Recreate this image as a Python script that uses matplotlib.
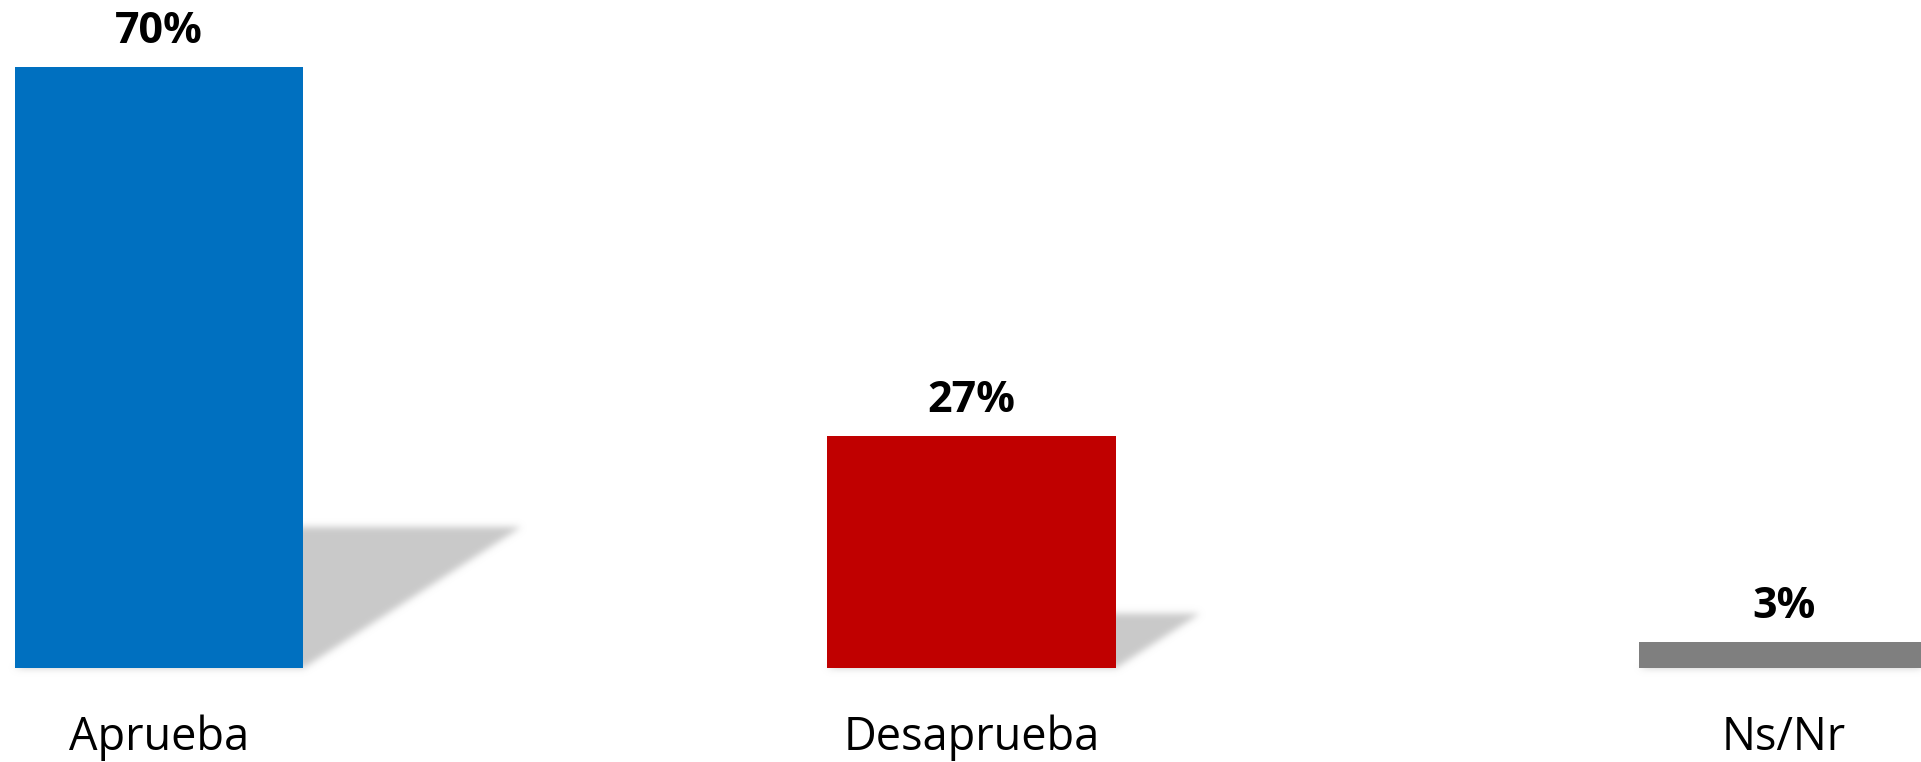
import numpy as np
import matplotlib
matplotlib.use('Agg')
import matplotlib.pyplot as plt
from matplotlib.patches import Polygon

# ---- data ----
categories = ['Aprueba', 'Desaprueba', 'Ns/Nr']
values = [70, 27, 3]
value_labels = ['70%', '27%', '3%']
colors = ['#0070C0', '#C00000', '#7F7F7F']

plt.rcParams['font.family'] = ['Open Sans', 'DejaVu Sans']

W, H, DPI = 1921, 762, 100
fig = plt.figure(figsize=(W / DPI, H / DPI), dpi=DPI)
fig.patch.set_facecolor('white')

base_px = 94        # baseline distance from bottom (px)
px_per_unit = 812.5  # px between category centres
px_per_pct = 8.58
first_center_px = 159

ax = fig.add_axes([0, base_px / H, 1, 1 - base_px / H])
ax.set_xlim(-first_center_px / px_per_unit, (W - first_center_px) / px_per_unit)
ax.set_ylim(0, (H - base_px) / px_per_pct)
ax.axis('off')

bar_w = 289 / px_per_unit
x = np.arange(len(categories))


def make_blur(sigma_px, color=(0.79, 0.79, 0.79)):
    def _f(im, dpi):
        pad = int(np.ceil(sigma_px * 3))
        src = np.pad(im, [(pad, pad), (pad, pad), (0, 0)], 'constant')
        a = src[:, :, 3]
        r = np.arange(-pad, pad + 1)
        k = np.exp(-0.5 * (r / sigma_px) ** 2)
        k /= k.sum()
        p2 = np.pad(a, [(pad, pad), (0, 0)])
        tmp = sum(k[j] * p2[j:j + a.shape[0], :] for j in range(len(k)))
        p3 = np.pad(tmp, [(0, 0), (pad, pad)])
        out_a = sum(k[j] * p3[:, j:j + a.shape[1]] for j in range(len(k)))
        out = np.empty_like(src)
        out[:, :, 0] = color[0]
        out[:, :, 1] = color[1]
        out[:, :, 2] = color[2]
        out[:, :, 3] = np.clip(out_a, 0, 1)
        return out, -pad, -pad
    return _f


# shadows (perspective, skewed to the right)
shadow_ratio = 0.235
skew_per_pct = 0.0163
for xi, v in zip(x, values):
    sh = shadow_ratio * v
    sk = skew_per_pct * sh
    x0, x1 = xi - bar_w / 2, xi + bar_w / 2
    poly = Polygon([(x0, 0), (x1, 0), (x1 + sk, sh), (x0 + sk, sh)],
                   closed=True, facecolor='#c9c9c9', edgecolor='none',
                   zorder=1, clip_on=False)
    poly.set_agg_filter(make_blur(3.5))
    ax.add_patch(poly)

ax.bar(x, values, width=bar_w, color=colors, zorder=3, clip_on=False)

for xi, v, lab in zip(x, values, value_labels):
    ax.annotate(lab, xy=(xi, v), xytext=(0, 24.5 * 72 / DPI),
                textcoords='offset points', ha='center', va='baseline',
                fontsize=31, fontweight='bold', color='black')

for xi, cat in zip(x, categories):
    ax.annotate(cat, xy=(xi, 0), xytext=(0, -82 * 72 / DPI),
                textcoords='offset points', ha='center', va='baseline',
                fontsize=32.5, color='black', annotation_clip=False)

fig.savefig('out.png', dpi=DPI, facecolor='white')
